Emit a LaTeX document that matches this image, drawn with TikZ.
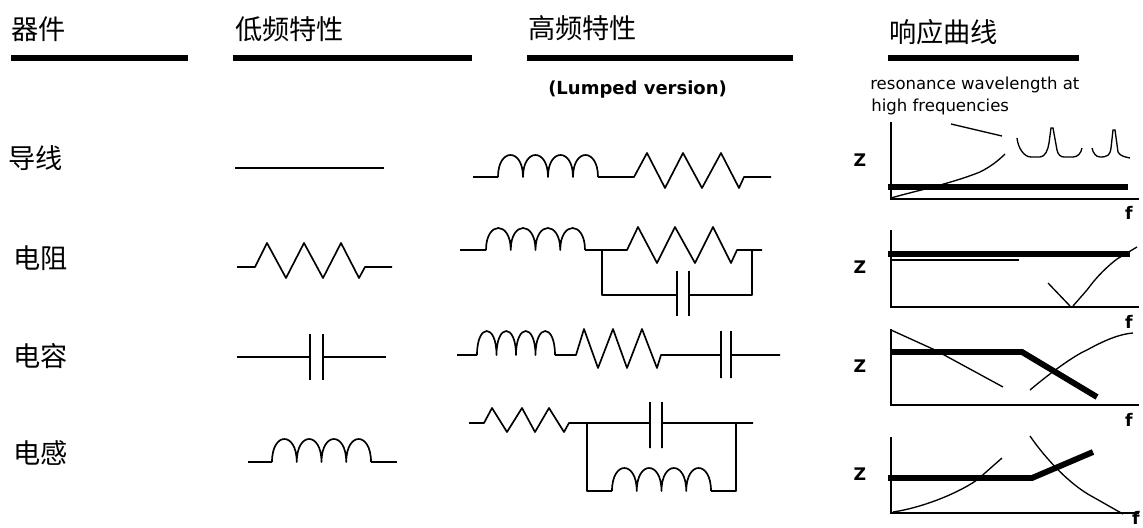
\documentclass[tikz,border=0pt]{standalone}
\usepackage{fontspec}
\setmainfont{DejaVu Sans}
\newfontfamily\cjk{Noto Sans CJK SC}
\newcommand{\coil}[4]{\draw[wire] (#1,#3) foreach \i in {0,1,2,3} { .. controls ({#1+\i*(#2-#1)/4},{#3-(#3-#4)*4/3}) and ({#1+(\i+1)*(#2-#1)/4},{#3-(#3-#4)*4/3}) .. ({#1+(\i+1)*(#2-#1)/4},#3) };}
\tikzset{
  wire/.style={line width=1.25pt,line join=round},
  bar/.style={line width=4.6pt},
  axisline/.style={line width=1.1pt},
  curve/.style={line width=1pt},
  heavy/.style={line width=4.4pt,line join=miter},
  zh/.style={font=\cjk\fontsize{20.4}{20.4}\selectfont,inner sep=0pt,anchor=west},
  zlab/.style={font=\fontsize{13}{13}\selectfont\bfseries,inner sep=0pt},
  flab/.style={font=\fontsize{13}{13}\selectfont\bfseries,inner sep=0pt},
  note/.style={font=\fontsize{12.4}{12.4}\selectfont,inner sep=0pt,anchor=west},
}
\begin{document}
\begin{tikzpicture}[x=0.75pt,y=-0.75pt]
\useasboundingbox (0,0) rectangle (1143,528);
% headers
\node[zh] (h1) at (11,29) {器件};
\node[zh] (h2) at (235,29) {低频特性};
\node[zh] (h3) at (528,28) {高频特性};
\node[zh] (h4) at (889,32) {响应曲线};
\draw[bar] (11,58) -- (188,58);
\draw[bar] (233,58) -- (472,58);
\draw[bar] (527,58) -- (793,58);
\draw[bar] (888,58) -- (1079,58);
\node[zh] (r1) at (8,158) {导线};
\node[zh] (r2) at (13,258) {电阻};
\node[zh] (r3) at (13,356) {电容};
\node[zh] (r4) at (13,453) {电感};
\node[font=\fontsize{13.5}{13.5}\selectfont\bfseries,inner sep=0pt,anchor=west] (lump) at (548,90) {(Lumped version)};
\node[note] (n1) at (870,85) {resonance wavelength at};
\node[note] (n2) at (871,107) {high frequencies};
% low frequency column
\draw[wire] (235,168) -- (384,168);
\draw[wire] (237,267) -- (255,267) -- (267,243) -- (286,278) -- (304,243) -- (323,278) -- (341,243) -- (359,278) -- (365,267) -- (392,267);
\draw[wire] (237,357) -- (310,357) (323,357) -- (386,357) (310,334) -- (310,380) (323,334) -- (323,380);
\draw[wire] (248,462) -- (272,462) (371,462) -- (397,462);
\coil{272}{371}{462}{439}
% high frequency: row 1
\draw[wire] (473,177) -- (498,177) (598,177) -- (634,177) -- (647,153) -- (665,188) -- (683,153) -- (702,188) -- (721,153) -- (739,188) -- (744,177) -- (771,177);
\coil{498}{598}{177}{155}
% row 2
\draw[wire] (460,250) -- (486,250) (585,250) -- (627,250) -- (638,227) -- (657,263) -- (675,227) -- (695,263) -- (713,227) -- (731,263) -- (737,250) -- (762,250);
\coil{486}{585}{250}{228}
\draw[wire] (602,250) -- (602,295) -- (677,295) (689,295) -- (752,295) -- (752,250) (677,271) -- (677,316) (689,271) -- (689,316);
% row 3
\draw[wire] (457,355) -- (477,355) (555,355) -- (576,355) -- (584,329) -- (598,368) -- (613,329) -- (627,368) -- (642,329) -- (657,368) -- (661,355) -- (721,355) (731,355) -- (780,355) (721,331) -- (721,378) (731,331) -- (731,378);
\coil{477}{555}{355}{331}
% row 4
\draw[wire] (469,423) -- (484,423) -- (492,408) -- (507,432) -- (522,408) -- (535,432) -- (549,408) -- (564,432) -- (569,423) -- (650,423) (662,423) -- (753,423) (650,402) -- (650,448) (662,402) -- (662,448);
\draw[wire] (587,423) -- (587,491) -- (612,491) (711,491) -- (736,491) -- (736,423);
\coil{612}{711}{491}{468}
% chart 1
\node[zlab] (z1) at (860,160) {Z};
\node[flab] (f1) at (1129,213) {f};
\draw[axisline] (891,122) -- (891,199) -- (1139,199);
\draw[curve] (891,198) .. controls (915,191) and (950,184) .. (980,172) .. controls (990,167) and (998,161) .. (1005,154);
\draw[curve] (951,124) -- (1002,136);
\draw[curve] (1017,138) .. controls (1018,148) and (1024,157) .. (1031,157) -- (1040,157) .. controls (1045,157) and (1048,150) .. (1049,143) -- (1051,128) -- (1053,128) -- (1057,150) .. controls (1058,155) and (1061,157) .. (1064,157) -- (1073,157) .. controls (1078,157) and (1081,153) .. (1082,148);
\draw[curve] (1092,148) .. controls (1093,153) and (1096,157) .. (1100,157) .. controls (1108,157) and (1110,155) .. (1111,148) -- (1113,130) -- (1115,130) -- (1118,152) .. controls (1120,156) and (1125,157) .. (1130,158);
\draw[heavy] (888,187) -- (1128,187);
% chart 2
\node[zlab] (z2) at (860,267) {Z};
\node[flab] (f2) at (1129,322) {f};
\draw[axisline] (891,230) -- (891,307) -- (1139,307);
\draw[curve] (891,260) -- (1019,260);
\draw[curve] (1048,283) -- (1070,306) (1073,306) -- (1087,290) .. controls (1098,275) and (1108,266) .. (1117,259) -- (1137,247);
\draw[heavy] (888,254) -- (1130,254);
% chart 3
\node[zlab] (z3) at (860,366) {Z};
\node[flab] (f3) at (1129,420) {f};
\draw[axisline] (891,329) -- (891,405) -- (1139,405);
\draw[curve] (891,330) -- (935,350) -- (1003,387);
\draw[curve] (1030,390) .. controls (1050,373) and (1075,355) .. (1087,350) .. controls (1105,340) and (1120,334) .. (1133,333);
\draw[heavy] (891,352) -- (1022,352) -- (1097,397);
% chart 4
\node[zlab] (z4) at (860,474) {Z};
\node[flab] (f4) at (1136,518) {f};
\draw[axisline] (891,437) -- (891,513) -- (1139,513);
\draw[curve] (893,512) .. controls (920,508) and (955,495) .. (977,480) -- (1002,458);
\draw[curve] (1030,436) .. controls (1045,458) and (1070,485) .. (1093,497) -- (1123,514);
\draw[heavy] (888,478) -- (1032,478) -- (1093,452);
\end{tikzpicture}
\end{document}
